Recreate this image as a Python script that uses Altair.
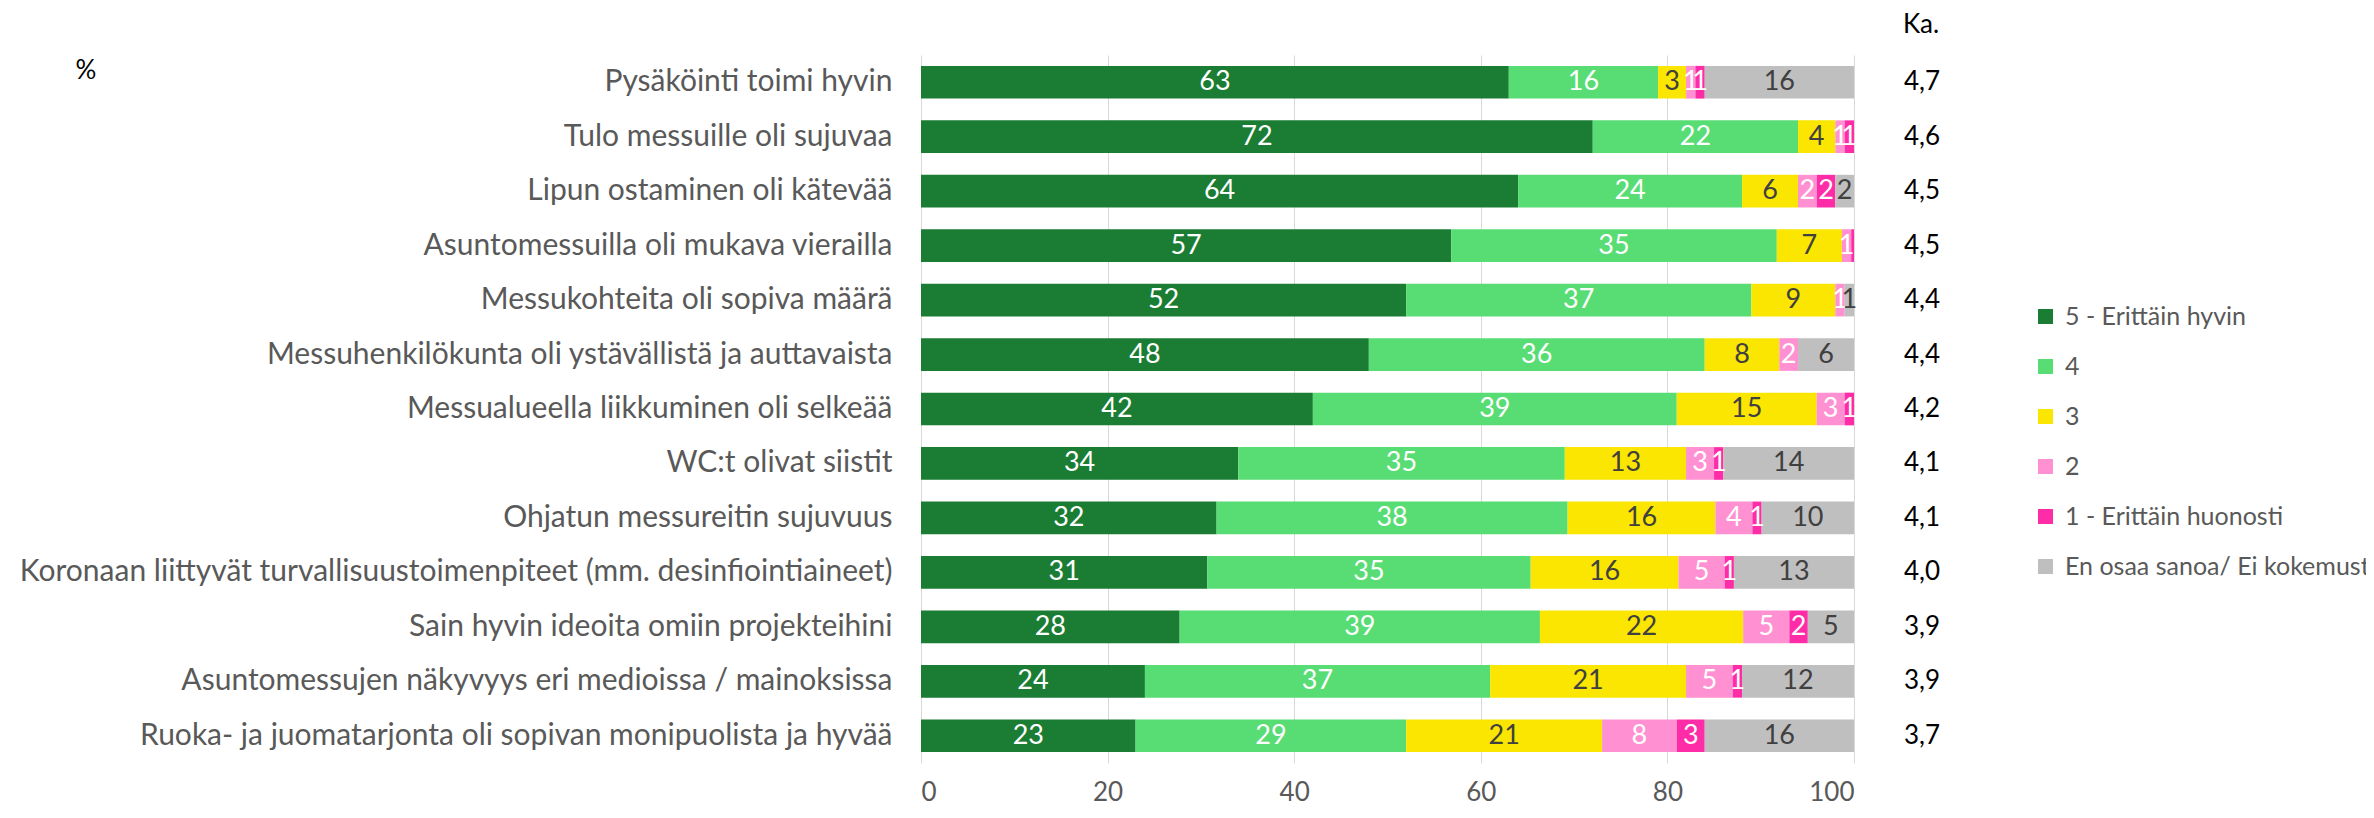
import altair as alt
import pandas as pd

items = [
    "Pysäköinti toimi hyvin",
    "Tulo messuille oli sujuvaa",
    "Lipun ostaminen oli kätevää",
    "Asuntomessuilla oli mukava vierailla",
    "Messukohteita oli sopiva määrä",
    "Messuhenkilökunta oli ystävällistä ja auttavaista",
    "Messualueella liikkuminen oli selkeää",
    "WC:t olivat siistit",
    "Ohjatun messureitin sujuvuus",
    "Koronaan liittyvät turvallisuustoimenpiteet (mm. desinfiointiaineet)",
    "Sain hyvin ideoita omiin projekteihini",
    "Asuntomessujen näkyvyys eri medioissa / mainoksissa",
    "Ruoka- ja juomatarjonta oli sopivan monipuolista ja hyvää",
]
series = ["5 - Erittäin hyvin", "4", "3", "2", "1 - Erittäin huonosti", "En osaa sanoa/ Ei kokemusta"]
v5 = [63, 72, 64, 57, 52, 48, 42, 34, 32, 31, 28, 24, 23]
v4 = [16, 22, 24, 35, 37, 36, 39, 35, 38, 35, 39, 37, 29]
v3 = [3, 4, 6, 7, 9, 8, 15, 13, 16, 16, 22, 21, 21]
v2 = [1, 1, 2, 1, 1, 2, 3, 3, 4, 5, 5, 5, 8]
v1 = [1, 1, 2, 0.3, 0, 0, 1, 1, 1, 1, 2, 1, 3]
veos = [16, 0, 2, 0, 1, 6, 0, 14, 10, 13, 5, 12, 16]
ka = ["4,7", "4,6", "4,5", "4,5", "4,4", "4,4", "4,2", "4,1", "4,1", "4,0", "3,9", "3,9", "3,7"]

colors = ["#1a7d33", "#58dc74", "#fae600", "#ff91d2", "#ff2ca8", "#bfbfbf"]
label_colors = ["#ffffff", "#ffffff", "#404040", "#ffffff", "#ffffff", "#404040"]

FONT = "Lato"

rows = []
for s_i, (s, vals) in enumerate(zip(series, [v5, v4, v3, v2, v1, veos])):
    for it, v in zip(items, vals):
        rows.append({"item": it, "series": s, "order": s_i, "value": v,
                     "label": (str(int(round(v))) if v >= 0.5 else ""),
                     "lc": label_colors[s_i]})
df = pd.DataFrame(rows)

ka_df = pd.DataFrame({"item": items, "ka": ka})

yenc = alt.Y("item:N", sort=items, title=None,
             scale=alt.Scale(paddingInner=0.4, paddingOuter=0.2),
             axis=alt.Axis(labelFontSize=30, labelColor="#595959", labelPadding=29,
                           domain=False, ticks=False, grid=False, labelLimit=1200,
                           labelFont=FONT))

base = alt.Chart(df).transform_joinaggregate(
    total="sum(value)", groupby=["item"]
).transform_calculate(
    pct="datum.value / datum.total * 100"
).transform_stack(
    stack="pct", groupby=["item"], as_=["x0", "x1"], sort=[alt.SortField("order")]
).transform_calculate(
    mid="(datum.x0 + datum.x1) / 2"
)

bars = base.mark_bar().encode(
    x=alt.X("x0:Q", scale=alt.Scale(domain=[0, 100], nice=False), title=None,
            axis=alt.Axis(values=[0, 20, 40, 60, 80, 100], grid=True, domain=False,
                          ticks=False, labelFontSize=26, labelColor="#595959",
                          labelPadding=16, labelFont=FONT, gridColor="#d9d9d9")),
    x2="x1:Q",
    y=yenc,
    color=alt.Color("series:N", sort=series,
                    scale=alt.Scale(domain=series, range=colors),
                    legend=alt.Legend(title=None, orient="none", legendX=1112, legendY=249,
                                      symbolType="square", symbolSize=225,
                                      symbolStrokeWidth=0, labelFontSize=25,
                                      labelColor="#595959", labelFont=FONT,
                                      rowPadding=24, labelLimit=1000, labelOffset=7)),
)

labels = base.mark_text(fontSize=27, font=FONT, baseline="middle").encode(
    x=alt.X("mid:Q"),
    y=alt.Y("item:N", sort=items),
    text="label:N",
    color=alt.Color("lc:N", scale=None),
)

ka_text = alt.Chart(ka_df).mark_text(fontSize=26, font=FONT, color="#000000",
                                      baseline="middle").encode(
    x=alt.value(1001),
    y=alt.Y("item:N", sort=items),
    text="ka:N",
)

ka_head = alt.Chart(pd.DataFrame({"t": ["Ka."]})).mark_text(
    fontSize=26, font=FONT, color="#000000", baseline="middle").encode(
    x=alt.value(1000), y=alt.value(-30), text="t:N")

pct_head = alt.Chart(pd.DataFrame({"t": ["%"]})).mark_text(
    fontSize=26, font=FONT, color="#000000", baseline="middle").encode(
    x=alt.value(-835), y=alt.value(16), text="t:N")

chart = alt.layer(bars, labels, ka_text, ka_head, pct_head).properties(
    width=933, height=708,
    autosize=alt.AutoSizeParams(type="none"),
    padding={"left": 913, "top": 47, "right": 512, "bottom": 47},
).configure_view(stroke=None)

chart.save("out.html", embed_options={"renderer": "svg", "actions": False})
